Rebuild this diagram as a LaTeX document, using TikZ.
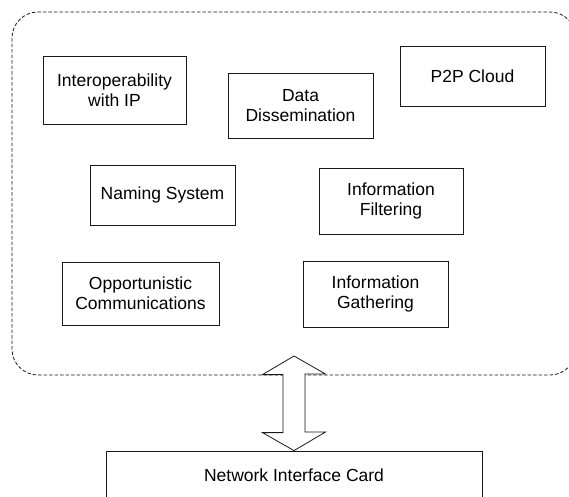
\documentclass[tikz,border=0pt]{standalone}
\usepackage{fontspec}
\setmainfont{Liberation Sans}
\begin{document}
\begin{tikzpicture}[x=1pt,y=-1pt,
  blk/.style={draw=black!90,line width=0.8pt,fill=white,align=center,inner sep=0pt,
    font=\fontsize{17.5}{20}\selectfont,text=black},
  cloudline/.style={draw=black!90,line width=0.8pt,dash pattern=on 3.5pt off 2pt,rounded corners=26pt},
  arrowshape/.style={draw=black!90,line width=0.8pt,fill=white,line join=miter}]
\clip (0,0) rectangle (569,496);
\fill[white] (0,0) rectangle (569,496);
\draw[cloudline] (12,12) rectangle (576,375);
\node[blk,minimum width=143pt,minimum height=68pt] (interop) at (114.5,90) {Interoperability\\with IP};
\node[blk,minimum width=145pt,minimum height=65pt] (data) at (300.5,105.5) {Data\\Dissemination};
\node[blk,minimum width=145pt,minimum height=60pt] (p2p) at (472.5,76) {P2P Cloud};
\node[blk,minimum width=145pt,minimum height=60pt] (naming) at (162.5,195) {Naming System};
\node[blk,minimum width=144pt,minimum height=66pt] (filter) at (391,201) {Information\\Filtering};
\node[blk,minimum width=157pt,minimum height=63pt] (opport) at (140.5,293.5) {Opportunistic\\Communications};
\node[blk,minimum width=145pt,minimum height=66pt] (gather) at (375.5,294) {Information\\Gathering};
\node[blk,minimum width=376pt,minimum height=48pt] (nic) at (294,475) {Network Interface Card};
\coordinate (tip) at (294,356);
\draw[arrowshape] (tip) -- ++(31.5,18) -- ++(-20.5,0) -- ++(0,58) -- ++(20.5,0)
  -- (nic.north) -- ++(-31.5,-18) -- ++(20.5,0) -- ++(0,-58) -- ++(-20.5,0) -- cycle;
\end{tikzpicture}
\end{document}
